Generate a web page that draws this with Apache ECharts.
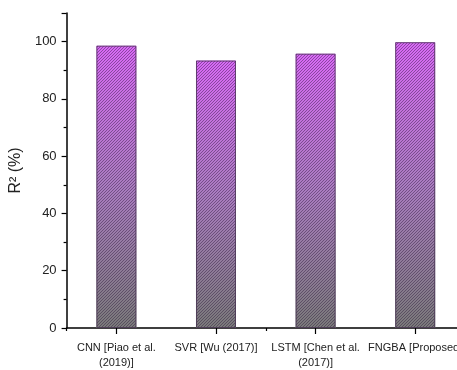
<!DOCTYPE html>
<html>
<head>
<meta charset="utf-8">
<script src="https://cdn.jsdelivr.net/npm/echarts@6/dist/echarts.min.js"></script>
<style>
  html, body { margin: 0; padding: 0; background: #fff; overflow: hidden; }
  /* the drawing surface is a bit wider than the window so the plot can run past the right edge */
  #chart { width: 470px; height: 370px; }
</style>
</head>
<body>
<div id="chart"></div>
<script>
// Model names on the category axis
const categories = [
  'CNN [Piao et al.\n(2019)]',
  'SVR [Wu (2017)]',
  'LSTM [Chen et al.\n(2017)]',
  'FNGBA [Proposed]'
];
// R² score of each model, in percent
const r2Values = [98.6, 93.4, 95.8, 99.8];
// Value-axis range and step
const yMin = 0;
const yMax = 110;
const yStep = 20;

const chart = echarts.init(document.getElementById('chart'), null, { renderer: 'canvas' });

const fontFamily = 'Liberation Sans, Arial, sans-serif';

// Diagonal "/" hatch tile laid over the gradient bars
function makeHatch() {
  const n = 3;
  const c = document.createElement('canvas');
  c.width = n; c.height = n;
  const ctx = c.getContext('2d');
  ctx.fillStyle = 'rgba(40,20,55,0.42)';
  for (let i = 0; i < n; i++) {
    ctx.fillRect(i, n - 1 - i, 1, 1);
  }
  return c;
}

chart.setOption({
  animation: false,
  backgroundColor: '#ffffff',
  grid: { left: 65, top: 13, width: 400, height: 321, containLabel: false },
  xAxis: [
    {
      type: 'category',
      data: categories,
      boundaryGap: true,
      axisLine: { show: true, lineStyle: { color: '#000', width: 1.5 } },
      axisTick: { show: true, alignWithLabel: true, length: 6, lineStyle: { color: '#000', width: 1.2 } },
      axisLabel: {
        color: '#222', fontSize: 11, fontFamily: fontFamily,
        margin: 12, lineHeight: 15, interval: 0
      },
      splitLine: { show: false }
    },
    {
      // short ticks on the category boundaries
      type: 'category',
      data: categories,
      position: 'bottom',
      boundaryGap: true,
      axisLine: { show: false },
      axisTick: { show: true, length: 3, lineStyle: { color: '#000', width: 1.2 } },
      axisLabel: { show: false },
      splitLine: { show: false }
    }
  ],
  yAxis: {
    type: 'value',
    min: yMin,
    max: yMax,
    interval: yStep,
    name: 'R\u00B2 (%)',
    nameLocation: 'middle',
    nameGap: 34,
    nameTextStyle: { color: '#222', fontSize: 16, fontFamily: fontFamily },
    axisLine: { show: true, lineStyle: { color: '#000', width: 1.5 } },
    axisTick: { show: true, length: 5, lineStyle: { color: '#000', width: 1.2 } },
    minorTick: { show: true, splitNumber: 2, length: 3, lineStyle: { color: '#000', width: 1.2 } },
    axisLabel: {
      color: '#222', fontSize: 13, fontFamily: fontFamily, margin: 10, showMaxLabel: false
    },
    splitLine: { show: false },
    minorSplitLine: { show: false }
  },
  series: [
    {
      // gradient body of each bar
      type: 'bar',
      data: r2Values,
      barWidth: 40,
      z: 2,
      itemStyle: {
        color: new echarts.graphic.LinearGradient(0, 0, 0, 1, [
          { offset: 0, color: '#d86af5' },
          { offset: 0.5, color: '#aa7cc0' },
          { offset: 1, color: '#7a7a7a' }
        ])
      }
    },
    {
      // hatch overlay and outline
      type: 'bar',
      data: r2Values,
      barWidth: 40,
      barGap: '-100%',
      z: 3,
      itemStyle: {
        color: { image: makeHatch(), repeat: 'repeat' },
        borderColor: 'rgba(70,50,80,0.8)',
        borderWidth: 1
      }
    }
  ]
});
</script>
</body>
</html>
